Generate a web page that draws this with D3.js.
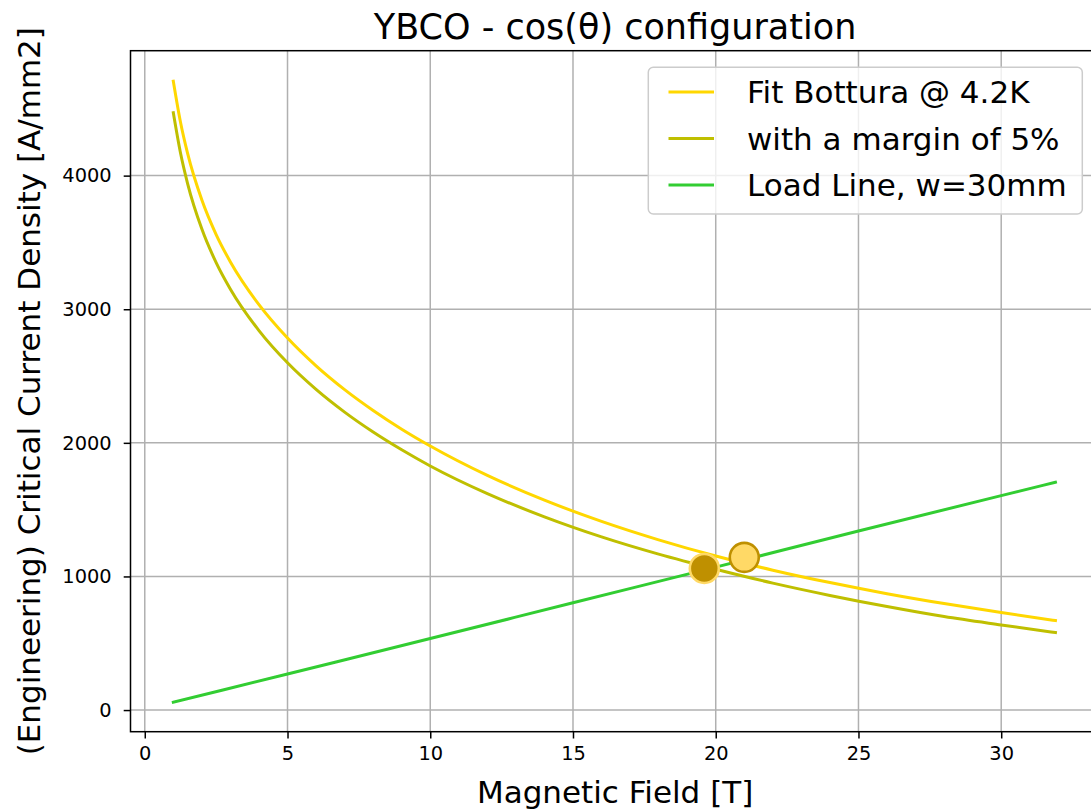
<!DOCTYPE html>
<html>
<head>
<meta charset="utf-8">
<script src="https://cdn.jsdelivr.net/npm/d3@7"></script>
<style>
  html, body { margin: 0; padding: 0; background: #fff; }
  svg text { font-family: "DejaVu Sans", sans-serif; fill: #000; }
</style>
</head>
<body>
<svg id="chart" width="1091" height="811"></svg>
<script>
// Bottura fit of Jc(B) for YBCO at 4.2 K
var fitField = [1, 1.25, 1.5, 2, 2.5, 3, 4, 5, 6, 7, 8, 9, 10, 12, 14, 16, 18, 20, 22, 24, 26, 28, 30, 31.9];
var fitDensity = [4706, 4401, 4166, 3817, 3559, 3354, 3034, 2784, 2576, 2398, 2242, 2102, 1976, 1756, 1571, 1412, 1274, 1153, 1047, 954, 871, 797, 730, 670];

// same fit with a 5% margin
var marginField = [1, 1.25, 1.5, 2, 2.5, 3, 4, 5, 6, 7, 8, 9, 10, 12, 14, 16, 18, 20, 22, 24, 26, 28, 30, 31.9];
var marginDensity = [4470, 4171, 3941, 3600, 3349, 3150, 2840, 2599, 2400, 2230, 2081, 1948, 1827, 1620, 1446, 1296, 1167, 1054, 950, 858, 775, 700, 637, 580];

// magnet load line, w = 30 mm
var loadField = [1, 5, 10, 15, 20, 25, 30, 31.9];
var loadDensity = [58, 270, 535, 803, 1070, 1340, 1605, 1705];

// operating points
var pointField = [19.6, 21.0];
var pointDensity = [1060, 1143];

var xTicks = [0, 5, 10, 15, 20, 25, 30];
var yTicks = [0, 1000, 2000, 3000, 4000];
var legendLabels = ["Fit Bottura @ 4.2K", "with a margin of 5%", "Load Line, w=30mm"];

var zip = function(xs, ys) {
  return xs.map(function(v, i) { return [v, ys[i]]; });
};

var render_chart = function() {
  var svg, x, y, left, right, top, bottom, line, series, legend, rows;
  svg = d3.select("#chart");

  left = 130.5; right = 1099.7; top = 50.7; bottom = 731.7;
  x = d3.scaleLinear().domain([-0.5, 33.45]).range([left, right]);
  y = d3.scaleLinear().domain([-162, 4935]).range([bottom, top]);

  // grid
  svg.append("g").selectAll("line").data(xTicks).enter().append("line")
    .attr("x1", function(d) { return x(d); }).attr("x2", function(d) { return x(d); })
    .attr("y1", top).attr("y2", bottom)
    .attr("stroke", "#b0b0b0").attr("stroke-width", 1.5);
  svg.append("g").selectAll("line").data(yTicks).enter().append("line")
    .attr("y1", function(d) { return y(d); }).attr("y2", function(d) { return y(d); })
    .attr("x1", left).attr("x2", right)
    .attr("stroke", "#b0b0b0").attr("stroke-width", 1.5);

  // curves
  line = d3.line()
    .x(function(d) { return x(d[0]); })
    .y(function(d) { return y(d[1]); })
    .curve(d3.curveMonotoneX);

  series = [
    { pts: zip(fitField, fitDensity), color: "#ffd700" },
    { pts: zip(marginField, marginDensity), color: "#bfbf00" },
    { pts: zip(loadField, loadDensity), color: "#32cd32" }
  ];

  svg.append("g").selectAll("path").data(series).enter().append("path")
    .attr("d", function(d) { return line(d.pts); })
    .attr("fill", "none")
    .attr("stroke", function(d) { return d.color; })
    .attr("stroke-width", 3)
    .attr("stroke-linecap", "square");

  // markers
  svg.append("g").selectAll("circle").data(zip(pointField, pointDensity)).enter().append("circle")
    .attr("cx", function(d) { return x(d[0]); })
    .attr("cy", function(d) { return y(d[1]); })
    .attr("r", 14.5)
    .attr("fill", function(d, i) { return i === 0 ? "#bf9000" : "#ffd966"; })
    .attr("stroke", function(d, i) { return i === 0 ? "#ffd966" : "#bf9000"; })
    .attr("stroke-width", 2.6);

  // axes
  var xAxis = svg.append("g")
    .attr("transform", "translate(0," + bottom + ")")
    .call(d3.axisBottom(x).tickValues(xTicks).tickFormat(d3.format("d")).tickSize(6.8).tickPadding(8));
  var yAxis = svg.append("g")
    .attr("transform", "translate(" + left + ",0)")
    .call(d3.axisLeft(y).tickValues(yTicks).tickFormat(d3.format("d")).tickSize(6.8).tickPadding(12));
  [xAxis, yAxis].forEach(function(a) {
    a.select(".domain").remove();
    a.selectAll(".tick line").attr("stroke", "#000").attr("stroke-width", 1.5);
    a.selectAll(".tick text").attr("font-size", "19.4px").attr("fill", "#000")
      .attr("font-family", "DejaVu Sans");
  });

  // spines (right one falls outside the canvas)
  svg.append("rect")
    .attr("x", left).attr("y", top)
    .attr("width", right - left).attr("height", bottom - top)
    .attr("fill", "none").attr("stroke", "#000").attr("stroke-width", 1.5);

  // legend
  legend = svg.append("g");
  legend.append("rect")
    .attr("x", 648.3).attr("y", 67.3).attr("width", 434).attr("height", 146.7)
    .attr("rx", 5).attr("ry", 5)
    .attr("fill", "#fff").attr("fill-opacity", 0.8)
    .attr("stroke", "#cccccc").attr("stroke-width", 1.5);
  rows = legend.selectAll("g.row").data(series).enter().append("g")
    .attr("class", "row")
    .attr("transform", function(d, i) { return "translate(0," + (92 + i * 46.5) + ")"; });
  rows.append("line")
    .attr("x1", 668.5).attr("x2", 714).attr("y1", 0).attr("y2", 0)
    .attr("stroke", function(d) { return d.color; }).attr("stroke-width", 3);
  rows.append("text")
    .attr("x", 747).attr("y", 11.3)
    .attr("font-size", "31px")
    .text(function(d, i) { return legendLabels[i]; });

  // titles
  svg.append("text")
    .attr("x", (left + right) / 2).attr("y", 39)
    .attr("text-anchor", "middle").attr("font-size", "35px")
    .text("YBCO - cos(\u03b8) configuration");
  svg.append("text")
    .attr("x", (left + right) / 2).attr("y", 803)
    .attr("text-anchor", "middle").attr("font-size", "31px")
    .text("Magnetic Field [T]");
  svg.append("text")
    .attr("transform", "translate(40," + ((top + bottom) / 2) + ") rotate(-90)")
    .attr("text-anchor", "middle").attr("font-size", "31px")
    .text("(Engineering) Critical Current Density [A/mm2]");
};

render_chart();
</script>
</body>
</html>
